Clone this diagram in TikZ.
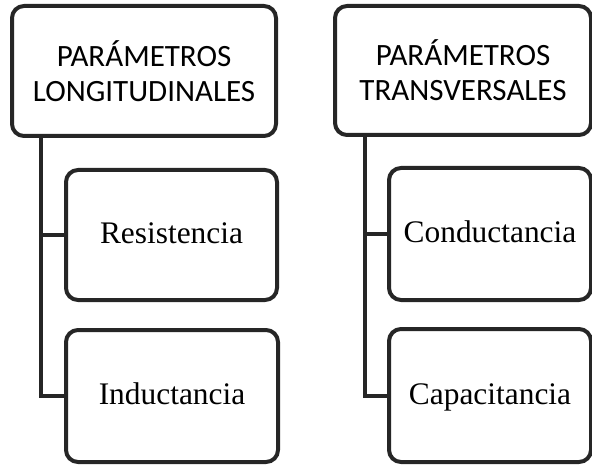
\documentclass[tikz,border=0pt]{standalone}
\usepackage{fontspec}
\setmainfont{Liberation Serif}
\newfontfamily\titfont{Carlito}
\usepackage{tikz}
\usetikzlibrary{positioning}

\tikzset{
  caja/.style={draw=black!85, line width=2pt, rounded corners=6pt, fill=white,
    inner sep=0pt, align=center},
  titulo/.style={caja, font=\titfont\fontsize{15.5}{17.5}\selectfont},
  param/.style={caja, text height=0.98em, text depth=0.1em,
    font=\fontsize{15.7}{18}\selectfont},
  bus/.style={draw=black!85, line width=2pt}
}

\begin{document}
\begin{tikzpicture}[x=0.5pt,y=-0.5pt]
\useasboundingbox (0,0) rectangle (592,464);

%%% Longitudinales

\draw (144,71) node[titulo, minimum width=132pt, minimum height=65pt] (lon)
{PARÁMETROS\\LONGITUDINALES};
\draw (171.5,235) node[param, minimum width=105.5pt, minimum height=65pt] (res) {Resistencia};
\draw (172,396) node[param, minimum width=106pt, minimum height=66pt] (ind) {Inductancia};

\coordinate (lonbus) at (lon.south -| 41,0);
\draw[bus] (lonbus) |- (ind.west);
\draw[bus] (res.west) -- (res.west -| lonbus);

%%% Transversales

\draw (463,70.5) node[titulo, minimum width=128pt, minimum height=64.5pt] (tra)
{PARÁMETROS\\TRANSVERSALES};
\draw (490,234) node[param, minimum width=101pt, minimum height=66pt] (con) {Conductancia};
\draw (490,395.5) node[param, minimum width=101pt, minimum height=66.5pt] (cap) {Capacitancia};

\coordinate (trabus) at (tra.south -| 365,0);
\draw[bus] (trabus) |- (cap.west);
\draw[bus] (con.west) -- (con.west -| trabus);

\end{tikzpicture}
\end{document}
